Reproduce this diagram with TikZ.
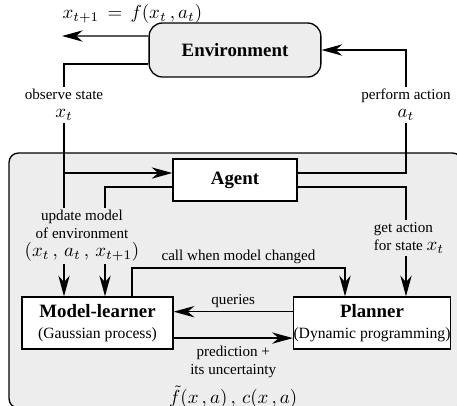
\documentclass[tikz,border=0pt]{standalone}
\usepackage{fontspec}
\setmainfont{Liberation Serif}
\usetikzlibrary{arrows.meta,calc}
\newcommand{\lmath}[1]{{\fontsize{10}{12}\selectfont$#1$}}

\begin{document}
\begin{tikzpicture}[x=0.53pt, y=-0.53pt, line width=0.7pt,
    arr/.style={-{Stealth[length=11pt, width=6pt, inset=3.5pt]}},
    box/.style={draw, fill=white, align=center, inner sep=0pt, font=\fontsize{10}{11.5}\selectfont},
    lbl/.style={align=center, inner sep=1pt, font=\fontsize{8}{9.5}\selectfont}]
    \useasboundingbox (0,0) rectangle (457,405);

    % Agent region
    \draw[fill=black!7, rounded corners=5pt] (9,153) rectangle (462,408);

    % Main blocks
    \node[box, fill=black!7, rounded corners=7pt, minimum width=91pt, minimum height=28.6pt] (env) at (235,50) {\textbf{Environment}};
    \node[box, minimum width=65.7pt, minimum height=22.3pt] (agent) at (235,180) {\textbf{Agent}};
    \node[box, minimum width=80pt, minimum height=27.6pt] (learner) at (97.5,323)
        {\textbf{Model-learner}\\{\fontsize{8.3}{10}\selectfont (Gaussian process)}};
    \node[box, minimum width=80.6pt, minimum height=27.6pt] (planner) at (372,323)
        {\textbf{Planner}\\{\fontsize{8.3}{10}\selectfont (Dynamic programming)}};

    % Labels on the loop
    \node[lbl, anchor=west, inner sep=0pt] (eqn) at (62,14) {\lmath{x_{t+1} \,=\, f(x_t\,, a_t)}};
    \node[lbl] (obs) at (64,105) {observe state\\\lmath{x_t}};
    \node[lbl] (act) at (406,105) {perform action\\\lmath{a_t}};
    \node[lbl] (upd) at (82,236) {update model\\of environment\\\lmath{(x_t\,,\, a_t\,,\, x_{t+1})}};
    \node[lbl, align=left] (get) at (409,238) {get action\\for state \lmath{x_t}};

    % Environment loop
    \coordinate (nextst) at (62,36);
    \coordinate (agin) at ([yshift=3.7pt]agent.west);
    \draw[arr] ([yshift=7.4pt]env.west) -- (nextst);
    \draw ([yshift=-7.4pt]env.west) -| (obs.north);
    \draw (obs.south) -- (obs.south |- upd.north);
    \draw[arr] (obs.south |- agin) -- (agin);
    \draw ([yshift=3.7pt]agent.east) -| (act.south);
    \draw[arr] (act.north) |- (env.east);

    % Agent to model-learner and planner
    \coordinate (colB) at (105,0);
    \draw ([yshift=-3.7pt]agent.west) -| (colB |- upd.north);
    \draw[arr] (obs.south |- upd.south) -- (obs.south |- learner.north);
    \draw[arr] (colB |- upd.south) -- (colB |- learner.north);
    \draw ([yshift=-3.7pt]agent.east) -| (act.south |- get.north);
    \draw[arr] (act.south |- get.south) -- (act.south |- planner.north);

    % Model-learner and planner
    \coordinate (callY) at (0,268);
    \coordinate (colC) at (132,0);
    \coordinate (colD) at (345,0);
    \draw[arr] (colC |- learner.north) -- (colC |- callY)
        -- node[lbl, above=1pt] {call when model changed} (colD |- callY) -- (colD |- planner.north);
    \draw[arr] ([yshift=6pt]planner.west) -- node[lbl, above=1pt] {queries} ([yshift=6pt]learner.east);
    \draw[arr] ([yshift=-8pt]learner.east) -- node[lbl, below=3pt]
        {prediction +\\its uncertainty\\[3pt]\lmath{\tilde f(x\,, a)\,,\, c(x\,, a)}} ([yshift=-8pt]planner.west);
\end{tikzpicture}
\end{document}
